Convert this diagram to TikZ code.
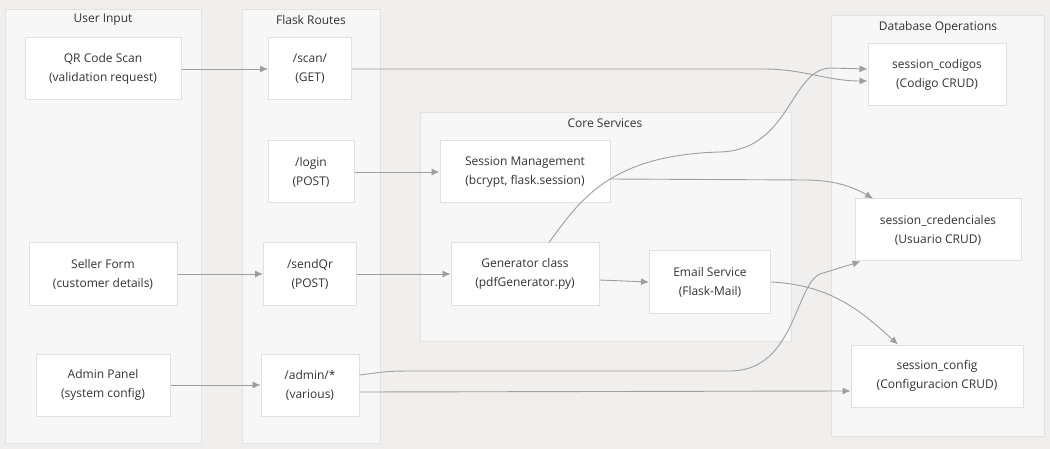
\documentclass[tikz,border=0pt]{standalone}
\usepackage{fontspec}
\setmainfont{Open Sans}
\usepackage{tikz}
\usetikzlibrary{positioning, arrows.meta, calc}
\definecolor{bggrey}{RGB}{240,239,237}
\definecolor{clusterfill}{RGB}{247,247,247}
\definecolor{clusterline}{RGB}{226,226,226}
\definecolor{boxline}{RGB}{224,224,224}
\definecolor{edgegrey}{RGB}{158,158,158}
\definecolor{textgrey}{RGB}{51,51,51}
\tikzstyle{cluster} = [rectangle, draw=clusterline, fill=clusterfill, line width=1pt]
\tikzstyle{clustertitle} = [text=textgrey, font=\fontsize{12}{14}\selectfont]
\tikzstyle{block} = [rectangle, minimum height=62pt, inner xsep=2pt, text centered, align=center, draw=boxline, fill=white, line width=1pt, text=textgrey, font=\fontsize{12}{19}\selectfont]
\tikzstyle{arrow} = [draw=edgegrey, line width=0.9pt, -{Latex[length=8pt,width=7pt]}]

\begin{document}
\begin{tikzpicture}[x=1pt, y=-1pt, node distance=207pt]
        \fill[bggrey] (0,0) rectangle (1050,449);
        \useasboundingbox (0,0) rectangle (1050,449);

        % subgraphs
        \draw[cluster] (5,10) rectangle (201,443);
        \draw[cluster] (242,10) rectangle (380,443);
        \draw[cluster] (420,113) rectangle (791,341);
        \draw[cluster] (831,16) rectangle (1044,436);
        \node (userinput) [clustertitle] at (103,20) {User Input};
        \node (flaskroutes) [clustertitle] at (311,20) {Flask Routes};
        \node (coreservices) [clustertitle] at (605,123) {Core Services};
        \node (databaseops) [clustertitle] at (938,27) {Database Operations};

        \node (qr) [block, minimum width=156pt] at (103,69) {QR Code Scan\\(validation request)};
        \node (scan) [block, minimum width=83pt, right of=qr] {/scan/\\(GET)};
        \node (login) [block, minimum width=86pt] at (311,172) {/login\\(POST)};
        \node (seller) [block, minimum width=148pt] at (103,274) {Seller Form\\(customer details)};
        \node (sendqr) [block, minimum width=93pt, right of=seller] {/sendQr\\(POST)};
        \node (admin) [block, minimum width=134pt] at (103,385) {Admin Panel\\(system config)};
        \node (adminroute) [block, minimum width=98pt, right of=admin] {/admin/*\\(various)};
        \node (session) [block, minimum width=170pt] at (525,172) {Session Management\\(bcrypt, flask.session)};
        \node (generator) [block, minimum width=148pt] at (525,274) {Generator class\\(pdfGenerator.py)};
        \node (email) [block, minimum width=121pt] at (710,282) {Email Service\\(Flask-Mail)};
        \node (codigos) [block, minimum width=138pt] at (937,75) {session\_codigos\\(Codigo CRUD)};
        \node (credenciales) [block, minimum width=166pt] at (938,230) {session\_credenciales\\(Usuario CRUD)};
        \node (config) [block, minimum width=172pt] at (937,376) {session\_config\\(Configuracion CRUD)};

        \draw [arrow] (qr) -- (scan);
        \draw [arrow] (seller) -- (sendqr);
        \draw [arrow] (admin) -- (adminroute);
        \draw [arrow] (login) -- (session);
        \draw [arrow] (sendqr) -- (generator);
        \draw [arrow] ([yshift=-6pt]generator.east) -- (email.west);
        \draw [arrow] (scan.east) -- (763,69) to[out=0,in=180] ([yshift=-6pt]codigos.west);
        \draw [arrow] ([xshift=24pt]generator.north) .. controls (580,200) and (610,155) .. (720,152) .. controls (790,150) and (790,70) .. (830,68) -- ([yshift=6pt]codigos.west);
        \draw [arrow] ([yshift=-7pt]session.east) -- (805,180) .. controls (830,180) and (850,185) .. ([xshift=-65pt]credenciales.north);
        \draw [arrow] (email.east) .. controls (830,285) and (860,310) .. ([xshift=-39pt]config.north);
        \draw [arrow] ([yshift=10pt]adminroute.east) .. controls (390,371) .. (420,371) -- (730,371) .. controls (795,371) and (795,285) .. (820,274) -- ([xshift=6pt]credenciales.south west);
        \draw [arrow] ([yshift=-7pt]adminroute.east) -- ([yshift=-15pt]config.west);

        \end{tikzpicture}
\end{document}
